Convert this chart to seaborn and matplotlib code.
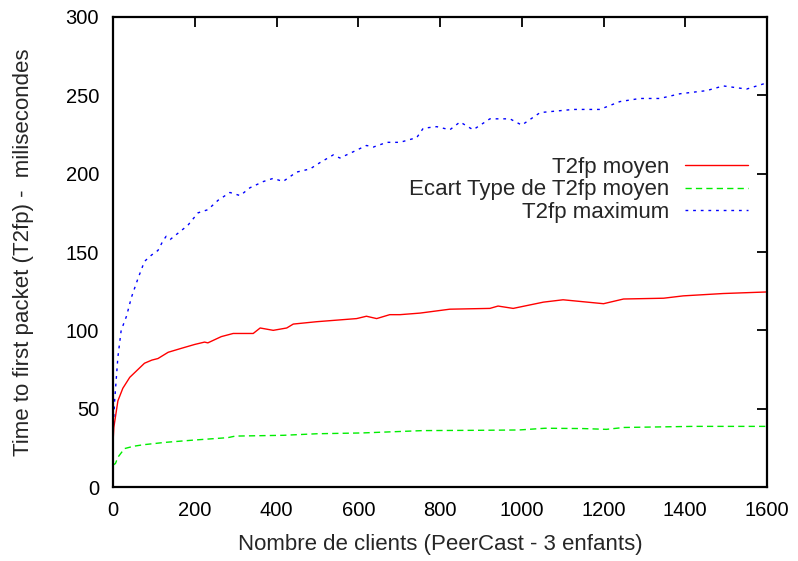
import matplotlib
matplotlib.use("Agg")
import matplotlib.pyplot as plt
import seaborn as sns

# valeurs (nombre de clients -> T2fp en ms)
x_moyen = [0, 2, 12, 24, 41, 61, 77, 95, 110, 135, 167, 200, 224, 232, 265, 294, 343, 360,
           392, 425, 441, 498, 596, 620, 645, 677, 702, 751, 824, 922, 942, 979, 1053,
           1101, 1200, 1249, 1347, 1395, 1493, 1600]
t2fp_moyen = [28, 38, 55, 63, 70, 75, 79, 81, 82, 86, 88.5, 91, 92.5, 92, 96, 98, 98, 101.5,
              100, 101.5, 104, 105.5, 107.5, 109, 107.5, 110, 110, 111, 113.5, 114, 115.5,
              114, 118, 119.5, 117, 120, 120.5, 122, 123.5, 124.5]

x_ecart = [0, 6, 12, 28, 50, 75, 128, 200, 281, 299, 417, 500, 609, 758, 900, 993, 1057,
           1150, 1207, 1250, 1421, 1600]
ecart_type = [14, 15, 19, 24.5, 26, 27, 28.5, 30, 31.5, 32.5, 33, 34, 34.5, 36, 36.2, 36.4,
              37.5, 37.3, 36.8, 38, 38.7, 38.7]

x_max = [0, 4, 12, 20, 33, 45, 61, 77, 94, 110, 122, 130, 140, 159, 183, 208, 232, 257, 286,
         311, 335, 368, 392, 416, 449, 482, 506, 539, 555, 588, 620, 637, 670, 702, 743, 759,
         792, 824, 849, 881, 922, 971, 1000, 1045, 1126, 1191, 1240, 1289, 1338, 1387, 1452,
         1493, 1550, 1600]
t2fp_max = [35, 55, 83, 100, 109, 121, 133, 144, 148, 151, 157, 160, 158, 162, 167, 175, 177,
            183, 188, 186, 191, 195, 197, 195, 201, 203, 207, 212, 210, 214, 218, 217, 220,
            220, 223, 229, 230, 228, 233, 228, 235, 235, 231, 239, 241, 241, 246, 248, 248,
            251, 253, 256, 254, 258]

labels = ["T2fp moyen", "Ecart Type de T2fp moyen", "T2fp maximum"]
x_ticks = [0, 200, 400, 600, 800, 1000, 1200, 1400, 1600]
y_ticks = [0, 50, 100, 150, 200, 250, 300]

sns.set_style("white")
plt.rcParams["font.family"] = ["Liberation Sans", "DejaVu Sans"]

fig = plt.figure(figsize=(7.98, 5.61), dpi=100)
ax = fig.add_axes([0.1416, 0.1319, 0.8196, 0.8378])

sns.lineplot(x=x_moyen, y=t2fp_moyen, ax=ax, color="#ff0000", lw=1, label=labels[0])
sns.lineplot(x=x_ecart, y=ecart_type, ax=ax, color="#00ee00", lw=1,
             linestyle=(0, (4.5, 3)), label=labels[1])
sns.lineplot(x=x_max, y=t2fp_max, ax=ax, color="#0000ff", lw=1,
             linestyle=(0, (2, 3.5)), label=labels[2])

ax.set_xlim(0, 1600)
ax.set_ylim(0, 300)
ax.set_xticks(x_ticks)
ax.set_yticks(y_ticks)
ax.tick_params(direction="in", length=7, width=1.3, top=True, right=True,
               labelsize=14.5, colors="black", pad=10)
for s in ax.spines.values():
    s.set_linewidth(1.6)
    s.set_color("black")

ax.set_xlabel("Nombre de clients (PeerCast - 3 enfants)", fontsize=16, labelpad=10)
ax.set_ylabel("Time to first packet (T2fp) -  milisecondes", fontsize=16, labelpad=23)

# markerfirst=False : texte aligné à droite, trait à droite (style gnuplot)
ax.legend(loc="center right", bbox_to_anchor=(0.971, 0.632), frameon=False,
          markerfirst=False, handlelength=2.85, handletextpad=0.68,
          labelspacing=0.08, borderaxespad=0, borderpad=0, fontsize=16)

fig.savefig("out.png", dpi=100)
